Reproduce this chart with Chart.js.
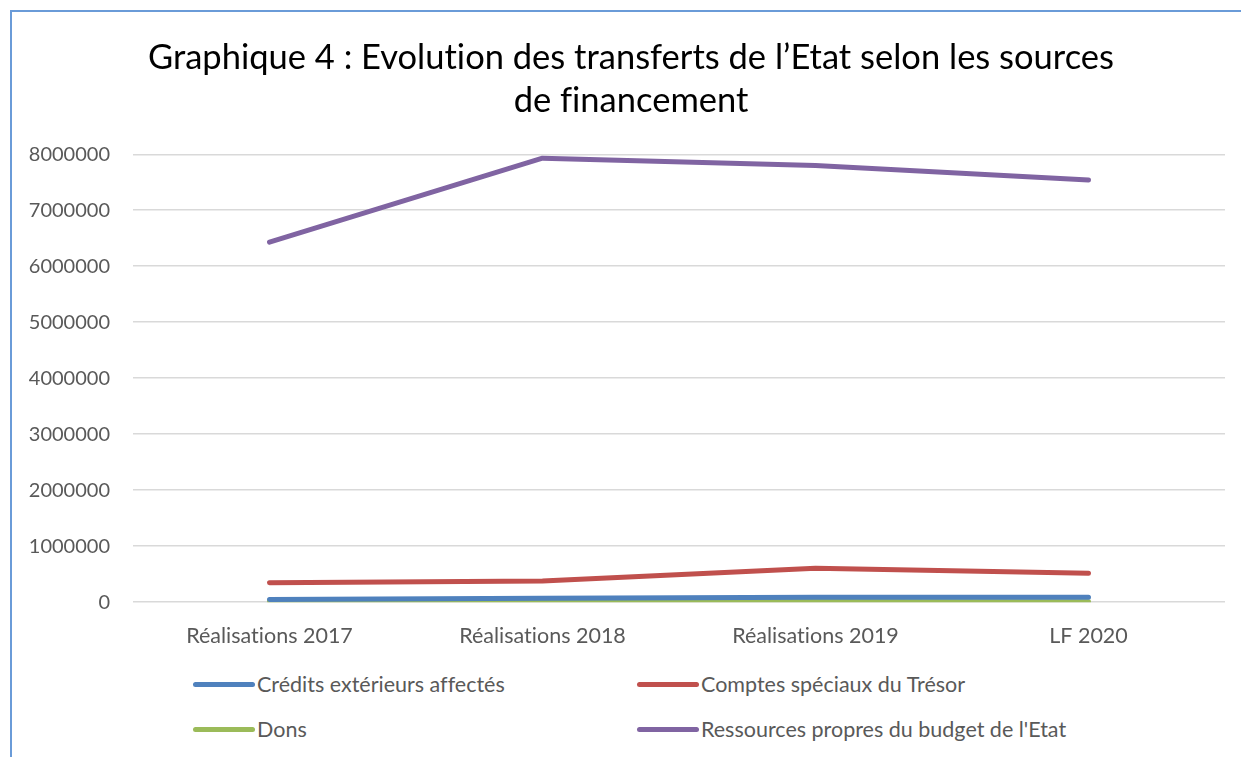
<!DOCTYPE html>
<html>
<head>
<meta charset="utf-8">
<script src="https://cdn.jsdelivr.net/npm/chart.js@4/dist/chart.umd.min.js"></script>
<style>
  body { margin: 0; background: #fff; font-family: Lato, sans-serif; }
  #cadre { position: absolute; left: 10px; top: 10px; width: 1240px; height: 760px;
           border-left: 2px solid #6a9bd8; border-top: 2px solid #6a9bd8; }
  #zone { position: absolute; left: 0; top: 0; width: 1241px; height: 666px; }
  #legende { position: absolute; left: 0; top: 0; }
  .item { position: absolute; display: flex; align-items: center; color: #595959; font-size: 21.5px;
          white-space: nowrap; font-variant-ligatures: none; }
  .trait { width: 62px; height: 5px; border-radius: 3px; margin-right: 2px; }
</style>
</head>
<body>
<div id="cadre"></div>
<div id="zone"><canvas id="graphique" width="1241" height="666"></canvas></div>
<div id="legende"></div>
<script>
// Données
const categories = ['Réalisations 2017', 'Réalisations 2018', 'Réalisations 2019', 'LF 2020'];
const creditsExterieurs = [50000, 70000, 90000, 90000];
const comptesSpeciaux = [346000, 377000, 605000, 515000];
const dons = [20000, 18000, 12000, 6000];
const ressourcesPropres = [6430000, 7930000, 7800000, 7540000];

const nomsSeries = ['Crédits extérieurs affectés', 'Comptes spéciaux du Trésor', 'Dons', "Ressources propres du budget de l'Etat"];
const couleurs = ['#4f81bd', '#c0504d', '#9bbb59', '#8064a2'];
const ticksY = [0, 1000000, 2000000, 3000000, 4000000, 5000000, 6000000, 7000000, 8000000];

const series = [creditsExterieurs, comptesSpeciaux, dons, ressourcesPropres];

// pas de ligatures "ti" et titre décalé un peu à droite comme dans l'original
const retouches = {
    id: 'retouches',
    afterLayout(chart) { if (chart.titleBlock) chart.titleBlock.left += 26; },
    beforeDraw(chart) { chart.ctx.textRendering = 'optimizeSpeed'; }
};

const graphique = new Chart(document.getElementById('graphique'), {
    type: 'line',
    data: {
        labels: categories,
        datasets: series.map((valeurs, i) => ({
            label: nomsSeries[i],
            data: valeurs,
            borderColor: couleurs[i],
            backgroundColor: couleurs[i],
            borderWidth: 5,
            pointRadius: 0,
            borderCapStyle: 'round',
            borderJoinStyle: 'round',
            tension: 0,
            order: [2, 1, 3, 0][i]
        }))
    },
    options: {
        responsive: false,
        animation: false,
        layout: { padding: { top: 10, right: 16, left: 11, bottom: 4 } },
        plugins: {
            legend: { display: false },
            tooltip: { enabled: false },
            title: {
                display: true,
                text: ['Graphique 4 : Evolution des transferts de l\u2019Etat selon les sources', 'de financement'],
                color: '#000',
                font: { family: 'Lato', size: 34.5, weight: 'normal', lineHeight: 1.25 },
                padding: { top: 26, bottom: 32 }
            }
        },
        scales: {
            x: {
                offset: true,
                grid: { display: false },
                border: { display: false },
                ticks: { color: '#595959', font: { family: 'Lato', size: 21.5 }, padding: 13, maxRotation: 0 }
            },
            y: {
                min: 0,
                max: 8000000,
                afterBuildTicks: axe => { axe.ticks = ticksY.map(v => ({ value: v })); },
                afterFit: axe => { axe.width = 122; },
                grid: { color: '#d9d9d9', lineWidth: 1.5, drawTicks: false },
                border: { display: false },
                ticks: { color: '#595959', font: { family: 'Lato', size: 20 }, padding: 23, callback: v => String(v) }
            }
        }
    },
    plugins: [retouches]
});

// Légende en deux colonnes, construite depuis les datasets
const positions = [[193, 685], [637, 685], [193, 730], [637, 730]];
const legende = document.getElementById('legende');
graphique.data.datasets.forEach((ds, i) => {
    const item = document.createElement('div');
    item.className = 'item';
    item.style.left = positions[i][0] + 'px';
    item.style.top = (positions[i][1] - 14) + 'px';
    item.innerHTML = '<span class="trait" style="background:' + ds.borderColor + '"></span>' + ds.label;
    legende.appendChild(item);
});
</script>
</body>
</html>
